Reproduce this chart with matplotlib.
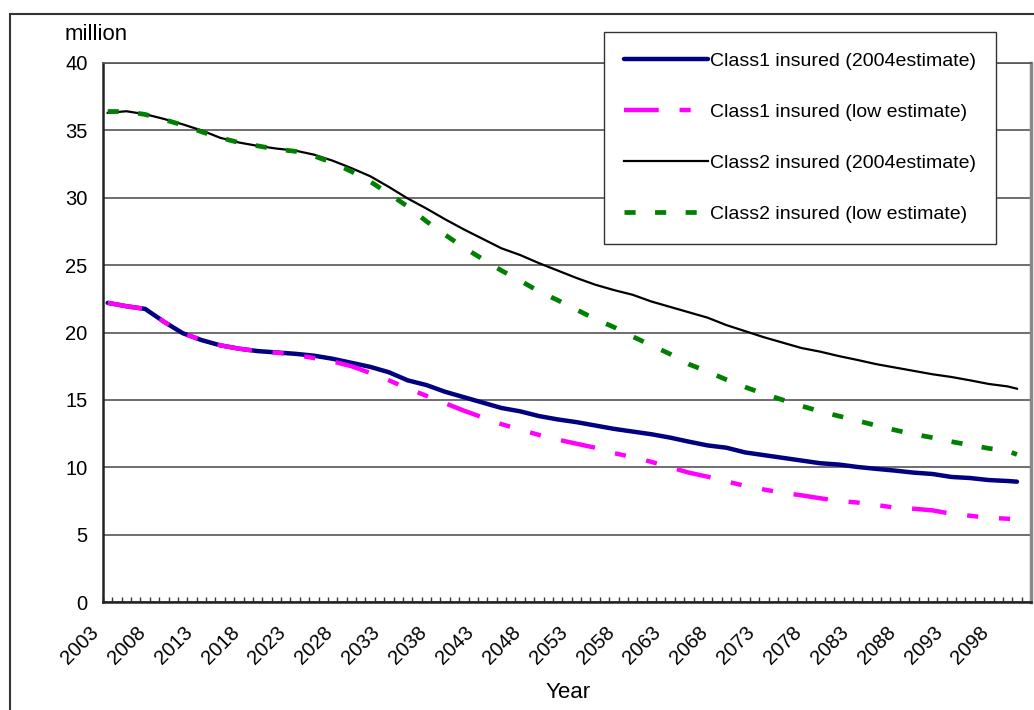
import numpy as np
import matplotlib
matplotlib.use("Agg")
import matplotlib.pyplot as plt
from matplotlib.patches import Rectangle
from matplotlib.ticker import FixedLocator
import matplotlib.transforms as mtransforms

plt.rcParams['font.family'] = ['Liberation Sans', 'DejaVu Sans']
plt.rcParams['lines.scale_dashes'] = False

# years (two-year steps, last point 2100)
years = list(range(2003, 2100, 2)) + [2100]

class1_2004 = [22.2, 21.95, 21.75, 20.8, 19.95, 19.44, 19.05, 18.8, 18.62, 18.52,
               18.42, 18.28, 18.05, 17.75, 17.45, 17.05, 16.45, 16.1, 15.6, 15.2,
               14.8, 14.4, 14.15, 13.8, 13.55, 13.35, 13.1, 12.85, 12.65, 12.45,
               12.2, 11.9, 11.62, 11.45, 11.1, 10.9, 10.7, 10.5, 10.3, 10.2,
               10.02, 9.88, 9.75, 9.6, 9.5, 9.28, 9.2, 9.05, 8.98, 8.93]
class1_low = [22.2, 21.95, 21.75, 20.8, 19.95, 19.44, 19.05, 18.8, 18.62, 18.5,
              18.35, 18.1, 17.85, 17.5, 17.0, 16.45, 15.85, 15.3, 14.75, 14.2,
              13.7, 13.2, 12.8, 12.4, 12.05, 11.75, 11.45, 11.05, 10.75, 10.4,
              10.0, 9.6, 9.3, 8.95, 8.62, 8.35, 8.1, 7.92, 7.7, 7.5,
              7.38, 7.2, 7.0, 6.92, 6.8, 6.55, 6.4, 6.25, 6.18, 6.12]
class2_2004 = [36.3, 36.42, 36.2, 35.85, 35.45, 35.0, 34.45, 34.1, 33.85, 33.65,
               33.5, 33.2, 32.75, 32.2, 31.6, 30.8, 29.95, 29.2, 28.4, 27.65,
               26.95, 26.25, 25.75, 25.15, 24.6, 24.05, 23.55, 23.15, 22.8, 22.3,
               21.9, 21.5, 21.1, 20.55, 20.1, 19.65, 19.25, 18.85, 18.58, 18.25,
               17.96, 17.65, 17.4, 17.15, 16.9, 16.7, 16.45, 16.18, 16.0, 15.83]
class2_low = [36.4, 36.4, 36.18, 35.8, 35.4, 34.9, 34.45, 34.1, 33.85, 33.6,
              33.45, 33.1, 32.6, 31.95, 31.2, 30.3, 29.35, 28.25, 27.25, 26.3,
              25.45, 24.6, 23.85, 23.05, 22.4, 21.7, 21.0, 20.4, 19.7, 19.05,
              18.4, 17.65, 17.1, 16.5, 15.95, 15.45, 15.0, 14.55, 14.15, 13.8,
              13.45, 13.1, 12.76, 12.45, 12.2, 11.9, 11.65, 11.4, 11.2, 10.95]

labels = ["Class1 insured (2004estimate)", "Class1 insured (low estimate)",
          "Class2 insured (2004estimate)", "Class2 insured (low estimate)"]
tick_years = list(range(2003, 2099, 5))

fig = plt.figure(figsize=(10.34, 7.10), dpi=100)
ax = fig.add_axes([103 / 1034, 108 / 710, 928 / 1034, 539 / 710])

ax.plot(years, class1_2004, color='#000080', lw=3.2, solid_capstyle='round', label=labels[0])
ax.plot(years, class1_low, color='#FF00FF', lw=3.2, dashes=(25, 15, 8, 15, 8, 15), label=labels[1])
ax.plot(years, class2_2004, color='black', lw=1.6, label=labels[2])
ax.plot(years, class2_low, color='#008000', lw=3.4, dashes=(8, 14), label=labels[3])

ax.set_xlim(2002.5, 2101.5)
ax.set_ylim(0, 40)
ax.set_yticks(range(0, 41, 5))
ax.yaxis.grid(True, color='#555555', lw=1.2)
ax.set_axisbelow(True)
ax.tick_params(axis='y', length=0, pad=11, labelsize=14.5)

ax.set_xticks(tick_years)
ax.set_xticklabels([str(y) for y in tick_years], rotation=45, ha='right', va='center',
                   rotation_mode='anchor', fontsize=14.5)
ax.xaxis.set_minor_locator(FixedLocator(np.arange(2002.5, 2102, 1)))
ax.tick_params(axis='x', which='major', length=0, pad=20)
ax.tick_params(axis='x', which='minor', direction='in', length=3.5, width=1, color='#333333')
shift = mtransforms.ScaledTranslation(-12 / 100, 0, fig.dpi_scale_trans)
for lab in ax.get_xticklabels():
    lab.set_transform(lab.get_transform() + shift)

for s in ['left', 'bottom']:
    ax.spines[s].set_color('#222222')
    ax.spines[s].set_linewidth(1.8)
ax.spines['top'].set_color('#555555')
ax.spines['top'].set_linewidth(1.2)
ax.spines['right'].set_color('#888888')
ax.spines['right'].set_linewidth(2.5)

fig.text(65 / 1034, 1 - 35 / 710, "million", fontsize=16, va='center', ha='left')
fig.text(568 / 1034, 1 - 693 / 710, "Year", fontsize=16, va='center', ha='center')

leg = ax.legend(loc='upper left', bbox_to_anchor=(604 / 1034, 1 - 32 / 710),
                bbox_transform=fig.transFigure, borderaxespad=0, fontsize=14,
                handlelength=4.3, handletextpad=0.1, labelspacing=1.72,
                borderpad=1.05, fancybox=False, framealpha=1)
leg.get_frame().set_edgecolor('#333333')
leg.get_frame().set_linewidth(1.0)

fig.patches.append(Rectangle((10 / 1034, -0.1), 1.5, 1.1 - 14 / 710, transform=fig.transFigure,
                             fill=False, edgecolor='#333333', lw=1.5))

fig.savefig("out.png", dpi=100)
